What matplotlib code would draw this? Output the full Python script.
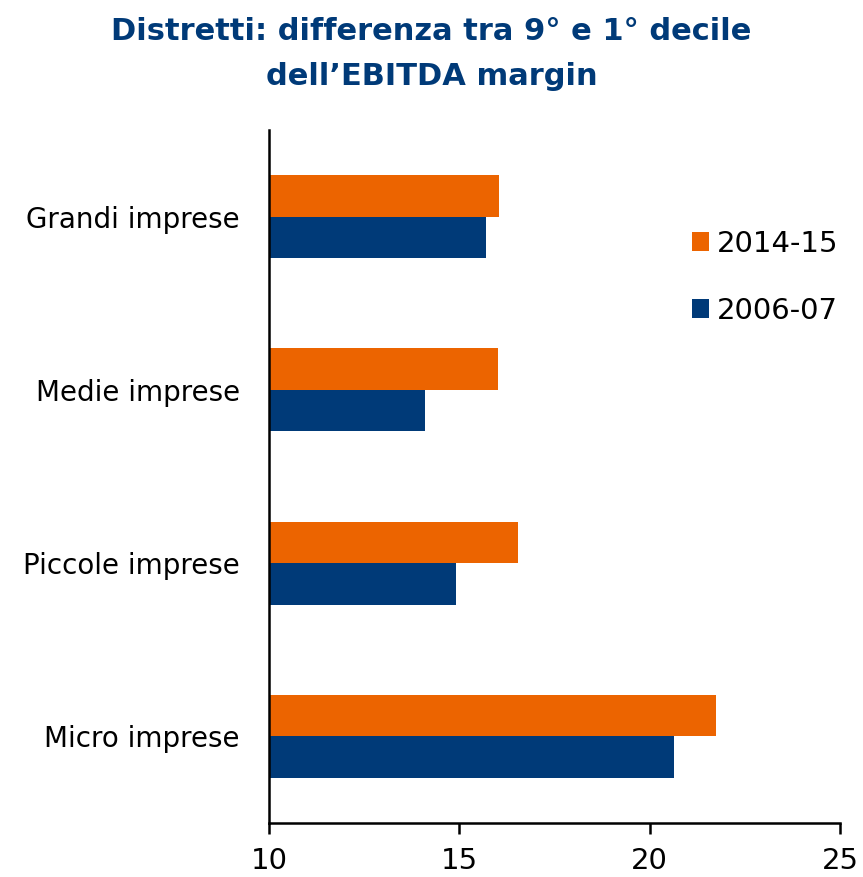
import matplotlib
matplotlib.use("Agg")
import matplotlib.pyplot as plt
import numpy as np

plt.rcParams['font.family'] = ['DejaVu Sans']

categories = ["Micro imprese", "Piccole imprese", "Medie imprese", "Grandi imprese"]
v_2014_15 = [21.75, 16.54, 16.01, 16.03]
v_2006_07 = [20.64, 14.91, 14.10, 15.71]
series_labels = ["2014-15", "2006-07"]
xticks = [10, 15, 20, 25]

orange = "#EC6400"
blue = "#003A78"

fig = plt.figure(figsize=(8.63, 8.77), dpi=100)
ax = fig.add_axes([0.3117, 0.0616, 0.9733 - 0.3117, 0.8518 - 0.0616])

y = np.arange(len(categories))
h = 0.24
ax.barh(y + h / 2, [v - 10 for v in v_2014_15], left=10, height=h, color=orange, label=series_labels[0])
ax.barh(y - h / 2, [v - 10 for v in v_2006_07], left=10, height=h, color=blue, label=series_labels[1])

ax.set_xlim(10, 25)
ax.set_ylim(-0.5, 3.5)
ax.set_xticks(xticks)
ax.set_xticklabels([str(t) for t in xticks], fontsize=21)
ax.set_yticks(y)
ax.set_yticklabels(categories, fontsize=20)
ax.tick_params(axis='y', length=0, pad=21)
ax.tick_params(axis='x', length=8, width=1.8, direction='out', pad=9)

for s in ['top', 'right']:
    ax.spines[s].set_visible(False)
for s in ['left', 'bottom']:
    ax.spines[s].set_linewidth(1.8)

leg = ax.legend(loc='upper left', bbox_to_anchor=(0.72, 0.873), frameon=False, fontsize=21,
                handlelength=0.6, handleheight=0.6, handletextpad=0.25, labelspacing=1.35,
                borderaxespad=0)

fig.text(0.5, 1 - 40 / 877, "Distretti: differenza tra 9° e 1° decile",
         ha='center', va='baseline', fontsize=22, fontweight='bold', color=blue)
fig.text(0.5, 1 - 85 / 877, "dell’EBITDA margin",
         ha='center', va='baseline', fontsize=22, fontweight='bold', color=blue)

fig.savefig("out.png", dpi=100)
